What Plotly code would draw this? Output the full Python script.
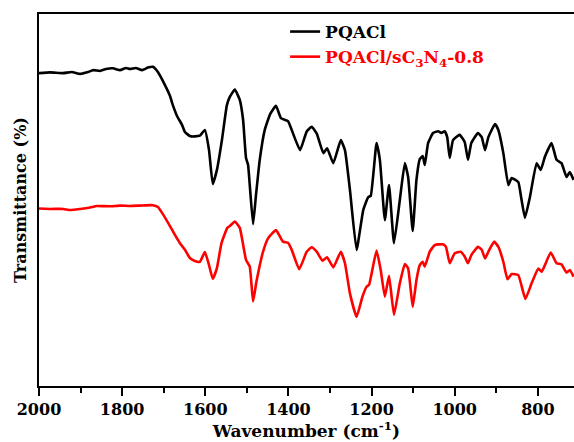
import plotly.graph_objects as go

# Wavenumber (cm-1) and transmittance (arbitrary %)
wn_pqacl = [2000, 1973, 1942, 1921, 1901, 1882, 1870, 1853, 1839, 1822, 1805, 1791, 1781, 1767,
            1752, 1738, 1726, 1714, 1697, 1685, 1678, 1668, 1656, 1649, 1637, 1625, 1613, 1601,
            1591, 1582, 1572, 1560, 1548, 1541, 1529, 1517, 1509, 1502, 1497, 1493, 1485, 1478,
            1469, 1457, 1444, 1430, 1418, 1401, 1392, 1372, 1356, 1344, 1332, 1316, 1307, 1292,
            1274, 1264, 1252, 1236, 1220, 1208, 1202, 1188, 1180, 1168, 1158, 1146, 1132, 1120,
            1112, 1101, 1092, 1084, 1077, 1072, 1064, 1052, 1040, 1032, 1024, 1018, 1012, 1004,
            988, 976, 968, 960, 944, 935, 927, 919, 903, 895, 883, 871, 863, 847, 841, 831, 819,
            803, 793, 783, 767, 755, 743, 731, 723, 714]
t_pqacl = [84.1, 84.3, 84.1, 84.4, 83.9, 84.4, 84.9, 84.7, 85.2, 85.4, 84.9, 85.5, 85.2, 85.5,
           84.9, 85.6, 85.8, 84.4, 80.9, 78.0, 75.5, 72.6, 70.2, 68.3, 67.2, 67.1, 67.3, 68.8,
           63.4, 54.3, 58.1, 66.1, 75.5, 77.7, 79.7, 76.9, 71.5, 61.3, 59.4, 54.0, 43.5, 51.3,
           60.8, 68.8, 73.1, 75.3, 72.0, 71.2, 68.8, 63.4, 68.4, 69.7, 67.9, 62.6, 63.9, 59.9,
           66.1, 63.4, 52.7, 36.6, 47.3, 50.8, 51.1, 65.3, 60.8, 44.6, 54.0, 38.4, 50.0, 59.9,
           56.2, 41.7, 55.4, 61.0, 61.8, 59.4, 65.3, 68.0, 68.5, 68.0, 68.5, 66.9, 61.3, 66.1,
           67.5, 65.6, 60.8, 65.3, 68.0, 66.9, 63.4, 66.9, 70.4, 68.8, 62.6, 54.0, 55.9, 54.8,
           51.3, 45.2, 50.8, 59.9, 58.1, 61.6, 65.3, 60.8, 59.9, 56.2, 57.5, 55.4]

wn_comp = [2000, 1973, 1942, 1925, 1901, 1877, 1861, 1829, 1805, 1781, 1757, 1726, 1714, 1702,
           1685, 1673, 1661, 1649, 1637, 1625, 1613, 1601, 1591, 1582, 1572, 1561, 1547, 1541,
           1529, 1517, 1502, 1493, 1485, 1477, 1461, 1449, 1430, 1413, 1401, 1392, 1374, 1356,
           1344, 1332, 1318, 1307, 1292, 1274, 1264, 1252, 1236, 1222, 1212, 1206, 1188, 1178,
           1168, 1158, 1146, 1132, 1120, 1112, 1101, 1092, 1084, 1077, 1072, 1060, 1048, 1028,
           1021, 1012, 1000, 986, 976, 968, 960, 944, 935, 927, 919, 905, 895, 883, 873, 863,
           847, 830, 815, 799, 791, 783, 769, 755, 743, 731, 723, 714]
t_comp = [47.7, 47.6, 47.6, 47.3, 47.6, 48.0, 48.4, 48.3, 48.5, 48.4, 48.5, 48.6, 48.1, 46.2,
          43.0, 40.6, 38.4, 36.6, 34.4, 33.6, 33.4, 36.0, 32.5, 28.8, 31.7, 38.4, 42.5, 43.0,
          44.2, 42.5, 33.9, 32.1, 22.7, 28.0, 36.1, 39.7, 41.9, 38.8, 38.5, 36.6, 31.4, 36.1,
          37.3, 36.1, 33.7, 34.6, 31.9, 36.1, 33.0, 24.9, 18.6, 24.0, 26.7, 27.2, 36.4, 31.2,
          24.0, 29.6, 19.1, 27.6, 32.8, 31.6, 21.3, 28.5, 32.5, 33.4, 32.1, 36.1, 37.9, 38.1,
          37.4, 33.0, 35.7, 36.1, 34.8, 33.0, 35.2, 37.4, 36.6, 34.3, 36.1, 38.8, 37.4, 33.4,
          28.7, 30.1, 29.8, 23.4, 27.6, 31.6, 30.7, 32.5, 35.9, 33.0, 32.7, 30.5, 31.2, 29.4]

series_names = ["<b>PQACl</b>",
                "<b><span style='color:#ff0000'>PQACl/sC<sub>3</sub>N<sub>4</sub>-0.8</span></b>"]
x_ticks = [2000, 1800, 1600, 1400, 1200, 1000, 800]

FONT = "DejaVu Serif"

fig = go.Figure()
fig.add_trace(go.Scatter(x=wn_pqacl, y=t_pqacl, mode="lines", name=series_names[0],
                         line=dict(color="black", width=2.6, shape="spline", smoothing=0.4)))
fig.add_trace(go.Scatter(x=wn_comp, y=t_comp, mode="lines", name=series_names[1],
                         line=dict(color="#ff0000", width=2.6, shape="spline", smoothing=0.4)))

fig.update_layout(
    width=574, height=442,
    margin=dict(l=39, r=0, t=14, b=56),
    paper_bgcolor="white", plot_bgcolor="white",
    font=dict(family=FONT, color="black"),
    showlegend=True,
    legend=dict(x=0.46, y=1.0, xanchor="left", yanchor="top",
                font=dict(family=FONT, size=17, color="black"),
                bgcolor="rgba(0,0,0,0)", tracegroupgap=0, itemwidth=30),
    xaxis=dict(
        range=[2000, 713], tickvals=x_ticks, ticktext=["<b>%d</b>" % v for v in x_ticks],
        showline=True, linecolor="black", linewidth=2, mirror=True,
        ticks="outside", ticklen=8, tickwidth=2, tickcolor="black",
        minor=dict(dtick=100, tick0=0, ticks="outside", ticklen=5, tickwidth=2, tickcolor="black"),
        tickfont=dict(family=FONT, size=16, color="black"),
        showgrid=False, zeroline=False,
        title=dict(text="<b>Wavenumber (cm<sup>-1</sup>)</b>", standoff=4,
                   font=dict(family=FONT, size=17, color="black")),
        automargin=False,
    ),
    yaxis=dict(
        range=[0, 100], showticklabels=False, ticks="",
        showline=True, linecolor="black", linewidth=2,
        showgrid=False, zeroline=False,
        title=dict(text="<b>Transmittance (%)</b>", standoff=6,
                   font=dict(family=FONT, size=16, color="black")),
        automargin=False,
    ),
)

fig.write_html("out.html")
